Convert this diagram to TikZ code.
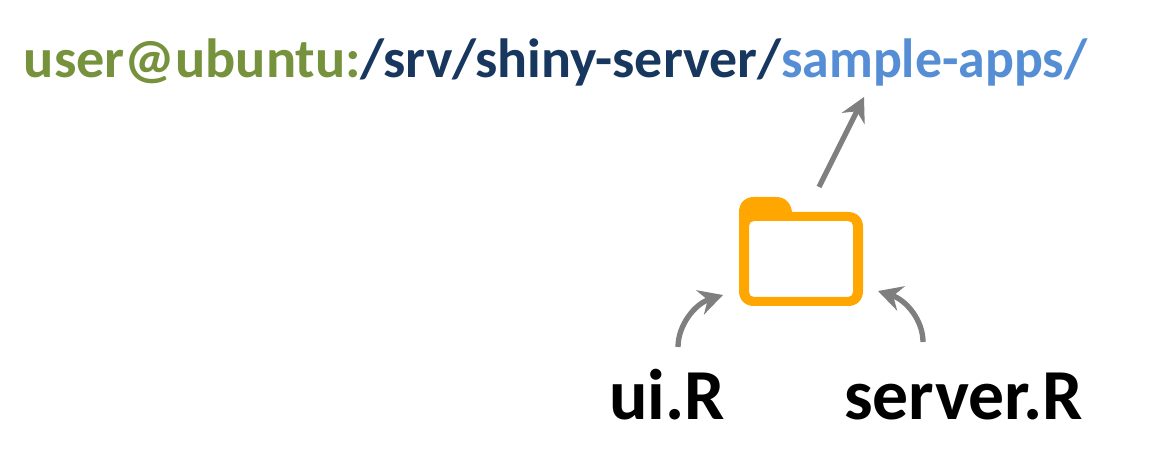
\documentclass[tikz,border=0pt]{standalone}
\usepackage{fontspec}
\usepackage{graphicx}
\setmainfont{Carlito}
\usetikzlibrary{arrows.meta}
\definecolor{pathgreen}{RGB}{118,146,60}
\definecolor{pathnavy}{RGB}{23,55,94}
\definecolor{pathblue}{RGB}{85,142,213}
\definecolor{foldercol}{RGB}{255,166,0}
\definecolor{arrowgray}{RGB}{127,127,127}
\tikzset{
  arrowline/.style={draw=arrowgray,line width=4pt,-{Stealth[length=18pt,width=19pt,inset=6pt]}},
  pathlabel/.style={inner sep=0pt,anchor=base west,font=\fontsize{41.4}{48}\selectfont\bfseries},
  filelabel/.style={inner sep=0pt,anchor=base west,font=\fontsize{53.8}{60}\selectfont\bfseries}
}
\begin{document}
\begin{tikzpicture}[x=0.75pt,y=0.75pt,yscale=-1,xscale=1]
\useasboundingbox (0,0) rectangle (1155,466);

% Text Node
\node[pathlabel] (srvpath) at (23.5,78) {\scalebox{1.02}[1]{\textcolor{pathgreen}{user@ubuntu:}}\scalebox{1.012}[1]{\textcolor{pathnavy}{/srv/shiny-server/}}\scalebox{0.975}[1]{\textcolor{pathblue}{sample-apps/}}};
% Text Node
\node[filelabel] (uifile) at (609,419) {ui.R};
% Text Node
\node[filelabel] (serverfile) at (844,419) {server.R};

%Shape: Folder
\fill [foldercol,even odd rule] (739,212) .. controls (739,203) and (745,197) .. (754,197) -- (776,197) .. controls (785,197) and (791,203) .. (792,212) -- (848,212) .. controls (857,212) and (863,218) .. (863,227) -- (863,291) .. controls (863,300) and (857,306) .. (848,306) -- (754,306) .. controls (745,306) and (739,300) .. (739,291) -- cycle
  (754,221) -- (848,221) .. controls (851,221) and (853,223) .. (853,226) -- (853,292) .. controls (853,295) and (851,297) .. (848,297) -- (754,297) .. controls (751,297) and (749,295) .. (749,292) -- (749,226) .. controls (749,223) and (751,221) .. (754,221) -- cycle ;

\coordinate (folderup) at (819,187);
\coordinate (appstip) at (864,97);
\coordinate (uistart) at (678,347);
\coordinate (uitip) at (723,295);
\coordinate (serverstart) at (923,342);
\coordinate (servertip) at (878,291);

%Arrows
\draw [arrowline] (folderup) -- (appstip);
\draw [arrowline] (uistart) .. controls (678,325) and (695,304) .. (uitip);
\draw [arrowline] (serverstart) .. controls (923,320) and (906,300) .. (servertip);

\end{tikzpicture}
\end{document}
